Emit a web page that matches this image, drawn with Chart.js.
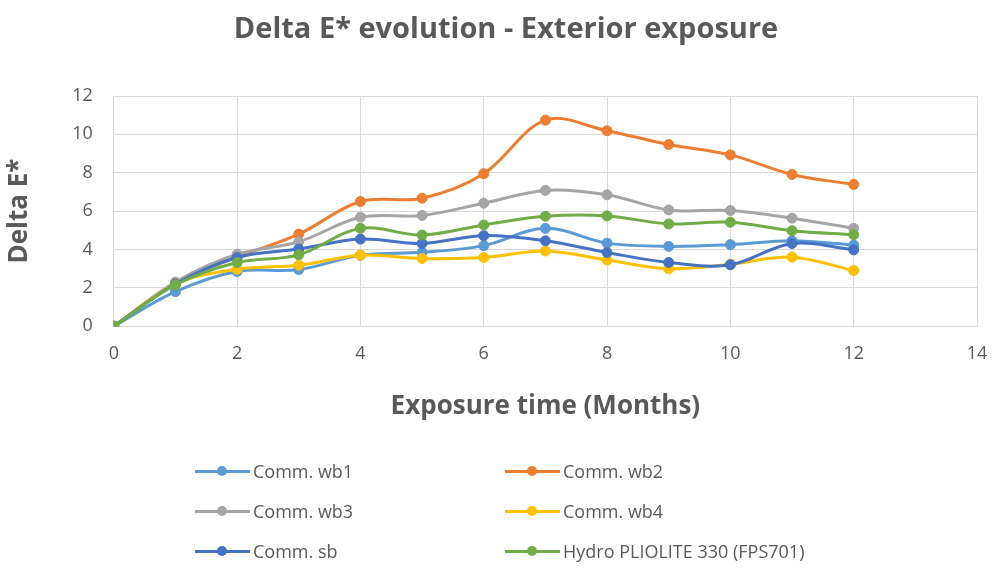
<!DOCTYPE html>
<html>
<head>
<meta charset="utf-8">
<script src="https://cdn.jsdelivr.net/npm/chart.js@4/dist/chart.umd.min.js"></script>
<style>
  html, body { margin: 0; padding: 0; background: #fff; }
  #wrap { position: relative; width: 1000px; height: 575px; }
  #c { position: absolute; left: 0; top: 0; }
  #title { position: absolute; left: 0; top: 9px; width: 1012px; text-align: center; font-family: "Open Sans", sans-serif; font-weight: bold; font-size: 29px; line-height: 35px; color: #595959; white-space: nowrap; }
  .lg { position: absolute; font-family: "Open Sans", sans-serif; font-size: 18px; color: #595959; white-space: nowrap; height: 24px; line-height: 24px; }
  .lg .ln { position: absolute; left: 0; top: 10.5px; width: 55px; height: 3px; }
  .lg .dt { position: absolute; left: 22px; top: 7px; width: 10px; height: 10px; border-radius: 50%; }
  .lg .tx { position: absolute; left: 58px; top: 0; }
</style>
</head>
<body>
<div id="wrap">
  <canvas id="c" width="1000" height="575"></canvas>
  <div id="title">Delta E* evolution - Exterior exposure</div>
  <div id="legend"></div>
</div>
<script>
const months = [0, 1, 2, 3, 4, 5, 6, 7, 8, 9, 10, 11, 12];
const seriesNames = ["Comm. wb1", "Comm. wb2", "Comm. wb3", "Comm. wb4", "Comm. sb", "Hydro PLIOLITE 330 (FPS701)"];
const seriesColors = ["#5B9BD5", "#ED7D31", "#A5A5A5", "#FFC000", "#4472C4", "#70AD47"];
const wb1 = [0, 1.8, 2.85, 2.95, 3.7, 3.85, 4.2, 5.1, 4.33, 4.16, 4.25, 4.45, 4.23];
const wb2 = [0, 2.25, 3.6, 4.8, 6.5, 6.67, 7.95, 10.74, 10.19, 9.47, 8.93, 7.91, 7.39];
const wb3 = [0, 2.3, 3.75, 4.4, 5.68, 5.77, 6.41, 7.08, 6.85, 6.06, 6.03, 5.63, 5.1];
const wb4 = [0, 2.2, 2.97, 3.18, 3.7, 3.53, 3.58, 3.92, 3.45, 3.0, 3.23, 3.6, 2.9];
const sb = [0, 2.2, 3.58, 4.02, 4.54, 4.31, 4.72, 4.45, 3.84, 3.32, 3.2, 4.31, 3.98];
const hydro = [0, 2.15, 3.32, 3.72, 5.1, 4.75, 5.28, 5.73, 5.75, 5.33, 5.42, 4.98, 4.77];
const seriesValues = [wb1, wb2, wb3, wb4, sb, hydro];
const xTicks = [0, 2, 4, 6, 8, 10, 12, 14];
const yTicks = [0, 2, 4, 6, 8, 10, 12];

const textColor = "#595959";
const gridColor = "#d9d9d9";
const fontFamily = "'Open Sans', sans-serif";

const datasets = seriesValues.map((vals, i) => ({
  label: seriesNames[i],
  data: vals.map((v, j) => ({ x: months[j], y: v })),
  borderColor: seriesColors[i],
  backgroundColor: seriesColors[i],
  pointBackgroundColor: seriesColors[i],
  pointBorderColor: seriesColors[i],
  borderWidth: 3,
  pointRadius: 5,
  pointBorderWidth: 1,
  tension: 0.35,
  fill: false,
  order: seriesValues.length - i
}));

new Chart(document.getElementById("c"), {
  type: "line",
  data: { datasets },
  options: {
    responsive: false,
    animation: false,
    layout: { padding: { left: 4, right: 23, top: 96, bottom: 153 } },
    plugins: {
      legend: { display: false },
      tooltip: { enabled: false },
      title: { display: false }
    },
    scales: {
      x: {
        type: "linear",
        min: 0, max: 14,
        afterBuildTicks: (axis) => { axis.ticks = xTicks.map(v => ({ value: v })); },
        afterFit: (axis) => { axis.paddingRight = 0; },
        ticks: { color: textColor, font: { family: fontFamily, size: 18 }, padding: 17 },
        grid: { color: gridColor, lineWidth: 1, drawTicks: false },
        border: { color: gridColor },
        title: {
          display: true,
          text: "Exposure time (Months)",
          color: textColor,
          font: { family: fontFamily, size: 26, weight: "bold" },
          padding: { top: 9, bottom: 0 }
        }
      },
      y: {
        type: "linear",
        min: 0, max: 12,
        afterBuildTicks: (axis) => { axis.ticks = yTicks.map(v => ({ value: v })); },
        ticks: { color: textColor, font: { family: fontFamily, size: 18 }, padding: 21 },
        grid: { color: gridColor, lineWidth: 1, drawTicks: false },
        border: { color: gridColor },
        title: {
          display: true,
          text: "Delta E*",
          color: textColor,
          font: { family: fontFamily, size: 26, weight: "bold" },
          padding: { top: 0, bottom: 16 }
        }
      }
    }
  }
});

// Two-column legend
const legendPos = [[195, 459], [505, 459], [195, 499], [505, 499], [195, 539], [505, 539]];
const legendEl = document.getElementById("legend");
seriesNames.forEach((name, i) => {
  const d = document.createElement("div");
  d.className = "lg";
  d.style.left = legendPos[i][0] + "px";
  d.style.top = legendPos[i][1] + "px";
  d.innerHTML = '<div class="ln" style="background:' + seriesColors[i] + '"></div>' +
    '<div class="dt" style="background:' + seriesColors[i] + '"></div>' +
    '<div class="tx"></div>';
  d.querySelector(".tx").textContent = name;
  legendEl.appendChild(d);
});
</script>
</body>
</html>
